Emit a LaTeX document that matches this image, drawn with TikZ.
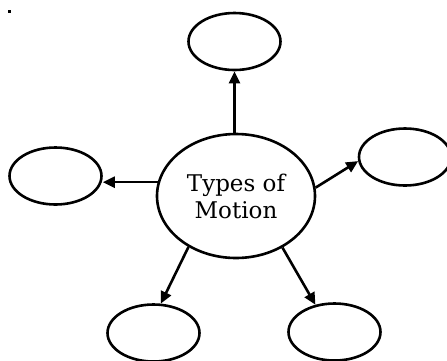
\documentclass[tikz,border=0pt]{standalone}
\usepackage{fontspec}
\setmainfont{DejaVu Serif}
\usetikzlibrary{shapes.geometric,arrows.meta}
\begin{document}
\begin{tikzpicture}[x=1pt,y=-1pt,
  bubble/.style={ellipse,draw,line width=2.6pt,inner sep=0pt,minimum width=92pt,minimum height=57pt},
  hub/.style={ellipse,draw,line width=2.6pt,inner sep=0pt,minimum width=158pt,minimum height=124pt,align=center,font=\fontsize{23}{27}\selectfont},
  link/.style={line width=2.6pt,-{Triangle[length=12pt,width=11pt]}}]
\useasboundingbox (0,0) rectangle (447,360);
\fill (8,10) rectangle (10.5,12.5);
\node[hub] (c) at (236,196) {Types of\\Motion};
\node[bubble] (t) at (234.5,41.5) {};
\node[bubble] (l) at (55.5,176) {};
\node[bubble] (r) at (405,157) {};
\node[bubble] (bl) at (153.5,333) {};
\node[bubble] (br) at (334.5,332) {};
\draw[link] (c.north -| t.south) -- (t.south);
\draw[link] (c.170) -- (l.east |- c.170);
\draw[link] (c.6) -- (r.185);
\draw[link] (c.227) -- (bl.76);
\draw[link] (c.-48) -- (br.125);
\end{tikzpicture}
\end{document}
